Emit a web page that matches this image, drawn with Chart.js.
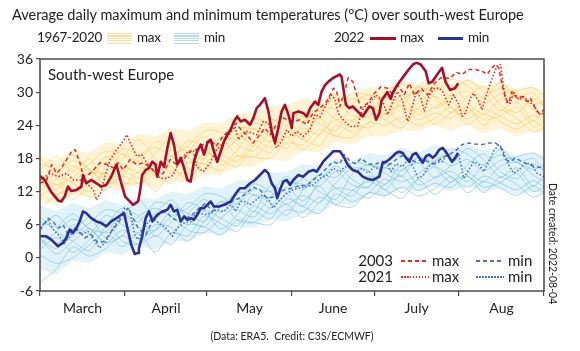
<!DOCTYPE html>
<html>
<head>
<meta charset="utf-8">
<script src="https://cdn.jsdelivr.net/npm/chart.js@4.4.1/dist/chart.umd.min.js"></script>
<style>
  html, body { margin: 0; padding: 0; background: #fff; }
  #wrap { position: relative; width: 580px; height: 351px; font-family: Lato, "Noto Sans", sans-serif; color: #222; }
  #wrap canvas { position: absolute; left: 0; top: 0; }
  .t { position: absolute; white-space: nowrap; line-height: 1; }
  .lg { font-size: 13.5px; letter-spacing: -0.3px; top: 31px; }
  .sw { position: absolute; }
</style>
</head>
<body>
<div id="wrap">
  <canvas id="c" width="580" height="351"></canvas>

  <div class="t" style="left:12px;top:8px;font-size:14.5px">Average daily maximum and minimum temperatures (°C) over south-west Europe</div>

  <!-- top legend -->
  <div class="t lg" style="left:37px">1967-2020</div>
  <div class="sw" style="left:107px;top:33px;width:25px;height:11px;background:repeating-linear-gradient(to bottom,#fddf9a 0 1px,transparent 1px 2.5px)"></div>
  <div class="t lg" style="left:137px">max</div>
  <div class="sw" style="left:174px;top:33px;width:25px;height:11px;background:repeating-linear-gradient(to bottom,#b4dcec 0 1px,transparent 1px 2.5px)"></div>
  <div class="t lg" style="left:204px">min</div>
  <div class="t lg" style="left:334px">2022</div>
  <div class="sw" style="left:370px;top:37px;width:26px;height:3px;background:#a50f2d"></div>
  <div class="t lg" style="left:400px">max</div>
  <div class="sw" style="left:438px;top:37px;width:25px;height:3px;background:#2a3192"></div>
  <div class="t lg" style="left:468px">min</div>

  <div class="t" style="left:48px;top:67px;font-size:15px">South-west Europe</div>

  <!-- inner legend -->
  <div class="t" style="right:187px;top:253px;font-size:15px">2003</div>
  <div class="sw" style="left:401px;top:260px;width:28px;height:1.6px;background:repeating-linear-gradient(to right,#e8281e 0 4px,transparent 4px 7px)"></div>
  <div class="t" style="left:432px;top:253px;font-size:15px">max</div>
  <div class="sw" style="left:476px;top:260px;width:28px;height:1.6px;background:repeating-linear-gradient(to right,#4a72c0 0 4px,transparent 4px 7px)"></div>
  <div class="t" style="left:508px;top:253px;font-size:15px">min</div>
  <div class="t" style="right:187px;top:269px;font-size:15px">2021</div>
  <div class="sw" style="left:401px;top:276px;width:28px;height:1.6px;background:repeating-linear-gradient(to right,#e8281e 0 1.5px,transparent 1.5px 3px)"></div>
  <div class="t" style="left:432px;top:269px;font-size:15px">max</div>
  <div class="sw" style="left:476px;top:276px;width:28px;height:1.6px;background:repeating-linear-gradient(to right,#4a72c0 0 1.5px,transparent 1.5px 3px)"></div>
  <div class="t" style="left:508px;top:269px;font-size:15px">min</div>

  <div class="t" style="left:558px;top:183px;font-size:10.5px;transform:rotate(90deg);transform-origin:0 0">Date created: 2022-08-04</div>
  <div class="t" style="left:0;width:584px;text-align:center;top:331px;font-size:10.5px">(Data: ERA5.&nbsp; Credit: C3S/ECMWF)</div>
</div>

<script>
/* x = days since 1 March, y = °C */
const monthNames  = ['March', 'April', 'May', 'June', 'July', 'Aug'];
const monthStarts = [0, 31, 61, 92, 122, 153, 184];
const yTicks      = [-6, 0, 6, 12, 18, 24, 30, 36];

/* 2022 (up to early August) */
const max2022 = [[0,14.8],[1.7,14.1],[4,12],[6.6,10.4],[7.8,10.2],[9,11.1],[10.2,12.9],[11.4,12.1],[13.3,12.3],[15.1,12.9],[15.7,15],[16.9,13.5],[18.7,14.1],[20.6,13.5],[22.4,12.9],[24.2,13.2],[26,14.7],[27.9,16.9],[29.5,13.8],[31.1,11.1],[34,9.6],[35.8,10.2],[36.5,12],[37.3,15],[38.6,15.9],[39.8,16.3],[41,17.4],[42.2,16.9],[42.8,14.7],[44.1,17.4],[45.3,16.5],[46.5,19.9],[47.7,22.6],[48.9,20.5],[50.1,16.9],[51.4,18.1],[52.6,16.3],[53.8,14.1],[55,13.8],[56.2,17.4],[57.4,19.3],[58.7,20.5],[59.9,18.7],[61.1,20.8],[62.3,21.4],[63.5,19.3],[64.7,17.4],[66,19.3],[67.2,21.1],[68.4,22.3],[69.6,23.2],[70.8,24.7],[72,25.6],[73.3,24.7],[74.8,25],[76.7,24.1],[77.9,25.3],[79.1,27.1],[80.3,27.7],[82.1,28.9],[83.4,26.5],[84.6,22.9],[85.8,20.8],[87,23.5],[88.2,26.5],[89.4,27.7],[90.7,25.9],[91.9,23.5],[92.5,26.2],[94.3,26.5],[96.1,26.2],[97.4,25.6],[98.6,27.1],[100.4,28.3],[101.6,27.7],[102.8,30.1],[104.1,31.3],[105.3,31.9],[107.1,32.6],[108.3,32.9],[109.5,33.2],[110.1,32.8],[111.1,29.5],[111.7,27.7],[112.9,27.1],[114.2,27.4],[115.4,26.8],[116.6,26.2],[117.8,25.6],[119,26.5],[120.2,27.4],[121.5,27.1],[122.7,25],[123.9,26.2],[124.7,28.5],[126.8,30],[128,28.8],[129.1,30.2],[131,31.7],[132.8,32.9],[134.6,34.1],[136.4,35.1],[137.5,35.3],[139,35],[140.8,33.8],[141.9,31.6],[143.2,31.9],[145,33.2],[146.8,34.4],[148,31.9],[149.7,30.4],[151.5,30.7],[152.7,31.6]];
const min2022 = [[0,3.9],[2.3,3.9],[4.1,3.3],[6.6,2.1],[8.4,2.7],[9.6,3.6],[10.8,5.1],[12,4.5],[13.3,5.4],[14.5,6.6],[15.7,8.4],[16.9,8.1],[18.7,7.2],[20.6,6.6],[22.4,6.3],[24.2,5.7],[26,6.6],[27.9,7.2],[29.7,7.8],[30.7,8.1],[31.9,5.4],[33.3,2.4],[34.6,0.7],[35.8,0.9],[36.1,1.7],[37.3,3.9],[38.6,7.2],[39.8,8.4],[41,6.6],[42.8,7.8],[44.7,8.4],[46.5,8.7],[47.7,9.6],[48.9,8.4],[50.1,8.7],[51.4,6.6],[52.6,7.5],[53.8,6.9],[55,7.2],[56.2,6.9],[57.4,7.8],[58.7,9],[59.9,9],[61.1,9.6],[62.3,10.2],[63.5,9.3],[65.4,9.3],[67.2,9.6],[68.4,9.9],[69.6,10.2],[70.8,11.1],[72,12],[73,12.6],[74.8,12.6],[76.7,13.5],[78.5,14.1],[80.3,15],[82.1,15.9],[83.4,15.3],[84.6,13.5],[85.8,12.6],[86.6,10.8],[87.6,12.3],[88.8,13.8],[90.1,14.1],[91.3,13.2],[92.5,14.1],[94.3,15],[96.1,14.7],[98,15.6],[99.8,15.9],[101,15.6],[102.2,16.5],[103.4,17.4],[104.7,18.1],[105.9,18.7],[107.1,19.3],[109.5,19.3],[111.1,18.1],[112.3,16.9],[114.2,15.9],[116,15.6],[117.8,14.7],[119.6,14.3],[121.5,14.1],[122.7,14.4],[123.9,14.7],[125.1,17.2],[126.3,17.4],[127.5,17.8],[128.8,18.4],[130,19],[131.2,19.2],[132.4,19],[133.6,18.1],[134.8,17.4],[136.1,18.7],[137.3,19],[138.5,18.1],[139.7,17.2],[140.9,18.4],[142.1,18.7],[143.4,18.1],[144.6,18.7],[145.8,19.6],[147,19.9],[148,19.3],[149.2,18.4],[150.4,17.4],[151.6,18.1],[152.6,19]];

/* 2003 (dashed) */
const max2003 = [[0,13.5],[2.4,14.1],[4.3,16.9],[6.1,15.3],[7.9,16.3],[9.7,17.8],[11.6,19.3],[12.8,19.6],[14.6,17.2],[15.8,14.7],[17.6,15],[19.5,15.9],[21.9,17.2],[24.4,16.9],[26.8,16.3],[28.6,17.2],[30.4,15.9],[32.9,17.8],[35.3,16.9],[37.7,17.2],[40.2,16.5],[42.6,15],[45,15.3],[47.5,17.8],[49.9,16.9],[52.3,17.8],[54.8,19.3],[57.2,19.6],[59.5,20.5],[62.1,21.4],[64.3,20.2],[66.8,22],[69.4,23.2],[71.6,24.4],[73.4,23.2],[75.5,22.3],[77.8,20.8],[80.3,22.3],[82.1,23.5],[84,22.3],[86.2,24],[88.8,25.3],[92.4,24.7],[94.9,25],[97.4,24.1],[99.7,26.2],[102.2,27.1],[104.7,28.3],[107.1,30.7],[108.3,30.1],[109.5,27.4],[111.4,30.5],[112.5,32.6],[114.2,31.9],[116,28.9],[117.2,27.1],[119.6,28],[122.1,29.8],[124.5,31],[126.9,30.7],[128.8,29.5],[130.6,31.3],[133,29.5],[134.8,31.6],[136.7,29.5],[139.1,30.7],[141.5,29.5],[144,31.6],[146.4,32.6],[149.7,32.5],[151.9,33.6],[154.1,33.2],[156.5,34.1],[158.9,34.1],[161.4,33.8],[163.2,33.2],[165,34.4],[166.2,35],[167.5,34.4],[168.7,31.3],[169.9,28.9],[171.1,28],[172.3,30.1],[174.2,28.9],[176,29.2],[177.8,28.3],[179,28.9],[180.8,27.1],[182.1,26.2],[184,26.8]];
const min2003 = [[0,5],[2.9,7.2],[4.7,6.6],[6.6,5.4],[8.4,6],[10.2,4.2],[12,5.4],[13.9,5.1],[16.3,3.6],[18.7,4.2],[21.2,2.7],[23.6,3],[26,4.8],[28.5,6.3],[30.3,7.8],[32.1,9],[34,7.2],[35.8,5.4],[38.6,4.2],[41,6.6],[43.4,7.8],[45.9,8.4],[48.3,7.2],[50.7,6.6],[53.2,7.2],[55.6,7.8],[58.1,9],[60.5,9.9],[62.9,8.4],[65.4,9.3],[67.8,9.6],[70.2,10.2],[72.7,10.8],[74.8,11.5],[77.8,12.8],[80.3,12.3],[82.9,10.8],[85.1,11],[87.6,12],[90.2,12.5],[92.4,12.6],[94.9,13.2],[97.1,13],[99.7,14.1],[102.2,15],[104.8,16.3],[107,17.4],[109.5,17],[111,18.7],[113.2,17.5],[115.4,17],[117.2,18],[119.8,17],[122.3,16.9],[124.9,17.5],[127.8,16.9],[130,17.8],[132.2,18.5],[134.4,18],[136.9,17.4],[139.5,17.8],[141.7,17.4],[144.2,17],[146.8,18.1],[149.2,18.7],[151.5,19.3],[154.1,20.5],[156.5,20.8],[158.8,20.6],[161.4,20.5],[163.8,20.8],[166.2,20.8],[168.1,20.2],[169.9,17.8],[171.7,17.4],[173.5,18.1],[176,17.4],[178.4,16.9],[180.8,16.5],[184,16.3]];

/* 2021 (dotted) */
const max2021 = [[0,14.1],[3.7,15.3],[6.7,14.7],[9.7,15.3],[12.2,14.1],[14.6,14.1],[17,13.5],[19.5,12.3],[20.6,10.5],[22.4,12],[23.6,14.5],[25.6,17.8],[28,19.6],[30.4,21.1],[31.7,22.3],[33.5,20.2],[35.3,18.4],[37.1,18.7],[39,17.2],[41.4,15.9],[43.8,14.4],[46.3,14.4],[48.7,15],[51.1,17.8],[53.6,19],[56,19.3],[57.2,16.5],[59.6,15.6],[62.1,17.2],[64.5,19.6],[66.9,20.8],[69.4,22.6],[71.2,23.8],[72.4,21.4],[75.5,22.9],[79.1,22.3],[81.5,24.7],[83.4,24.4],[85.2,21.4],[86.4,19.9],[88.2,21.1],[90.1,23.2],[91.9,22],[93.7,22.9],[96.1,22],[98.6,23.2],[100.4,26],[102.2,25.5],[104.7,28],[106.5,29.5],[107.7,28.6],[108.9,26.2],[111.1,24.7],[113.5,23.8],[116,23.8],[117.2,26.2],[119,27.7],[120.8,28.3],[122.7,29.5],[125.1,28.3],[126.9,25.9],[128.8,28.3],[130.6,30.1],[132.4,28.3],[134.2,24.7],[135.5,26.5],[137.3,30.1],[139.1,28.9],[140.3,26.5],[142.1,29.5],[144,30.7],[145.8,30.7],[147,30.1],[149.2,27.7],[151,29.5],[152.9,27.7],[154.1,25.6],[155.3,26.2],[157.1,28.9],[158.3,29.8],[160.2,28.3],[161.4,26.8],[162.6,28.9],[163.8,30.7],[165.6,33.2],[166.8,34.7],[168.1,35],[169.3,30.7],[170.5,28],[171.7,28],[172.9,30.1],[174.8,28.6],[176.6,29.2],[178.4,28.3],[180.2,27.7],[181.5,26.5],[182.7,25.9],[184,26.2]];
const min2021 = [[0,5.5],[2.9,6.8],[4.7,5.2],[6.6,4.2],[9,2.7],[10.8,3.9],[12.7,5.4],[15.1,4.2],[17.5,4.8],[20,3],[21.8,1.8],[24.2,3],[26.7,5.4],[29.1,7.2],[30.9,9],[32.7,8.7],[34.6,4.2],[35.8,3.3],[38.6,6],[41,7.2],[43.4,6.3],[45.9,5.4],[48.3,3.9],[50.1,5.4],[52.6,6.3],[55,6.6],[57.4,8.4],[59.9,7.8],[62.3,8.1],[64.7,8.7],[67.2,8.4],[69.6,9.6],[71.4,8.4],[73.3,10.2],[74.8,10.2],[76.7,9.6],[78.9,10.5],[81.1,11.4],[83.2,10.8],[85.1,9],[87.6,10.5],[90.2,11.7],[92.4,12.3],[94.2,12.6],[97.1,12.9],[99.7,13.2],[102.2,14.4],[104.8,15],[107,16.2],[109.5,15.6],[111.4,16.5],[113.2,16.3],[115.4,15.6],[117.6,16.2],[119.8,15.3],[121.9,16.5],[124.1,16],[126.3,17.4],[128.1,15.6],[130,17],[132.2,16.5],[134.4,17.8],[136.2,16.5],[138,14.5],[139.8,14.8],[141.7,16.5],[143.8,17.2],[146.8,17.4],[148.6,18.7],[150.4,17.4],[152.9,18.7],[154.7,14.4],[156.5,15.9],[158.3,17.4],[160.2,16.9],[162,15.6],[163.8,17.4],[165.6,19.3],[167.5,20.5],[168.7,19.9],[169.9,18.1],[171.7,16.3],[172.9,15.3],[174.8,15.9],[177.2,17.2],[179.6,16.9],[181.5,15.3],[184,14.7]];

/* 1967-2020 spaghetti (sampled every 6 days) */
const histDays = [0,6,12,18,24,30,36,42,48,54,60,66,72,78,84,90,96,102,108,114,120,126,132,138,144,150,156,162,168,174,180,184];
const histMax = [
  [16,18.3,15.6,18,14.3,17.8,21.5,18,15.5,19.2,22,19.8,22.5,20.3,25,23.8,21.5,26.3,29,26.8,25.5,29,27.5,31,29.2,26.3,29.2,31,27.7,26.3,28.8,27.5],
  [11,13.3,10.6,13,15.3,12.8,15.5,12,15.5,15.2,19,17.8,16.5,20.3,19,22.8,21.5,20.3,24,22.8,24.5,27,24.5,27,24.2,26.3,27.2,25,25.7,27.3,23.8,24.5],
  [14,12.3,16.6,15,18.3,16.8,15.5,19,21.5,18.2,17,20.8,23.5,23.3,21,23.8,26.5,24.3,23,27.8,29.5,28,26.5,28,30.2,31.3,28.2,26,28.7,29.3,26.8,25.5],
  [18,15.3,13.6,12,16.3,19.8,18.5,15,17.5,21.2,20,16.8,19.5,23.3,22,19.8,24.5,27.3,25,23.8,27.5,26,29.5,26,27.2,29.3,32.2,30,26.7,28.3,24.8,26.5],
  [13,15.3,17.6,16,13.3,14.8,18.5,20,18.5,16.2,16,18.8,21.5,25.3,24,21.8,23.5,22.3,26,28.8,28.5,25,28.5,30,27.2,28.3,26.2,29,30.7,29.3,27.8,28.5],
  [9,11.3,12.6,11,12.3,14.8,13.5,15,13.5,17.2,17,15.8,18.5,18.3,18,20.8,20.5,23.3,22,21.8,24.5,24,25.5,24,25.2,27.3,24.2,26,24.7,23.3,24.8,23.5],
  [15,13.3,14.6,17,19.3,18.8,16.5,16,18.5,20.2,23,22.8,20.5,19.3,23,25.8,25.5,25.3,28,25.8,25.5,30,31.5,30,31.2,29.3,30.2,28,29.7,30.3,30.8,29.5],
  [12,14.3,11.6,14,17.3,13.8,13.5,17,16.5,14.2,18,21.8,18.5,18.3,21,24.8,22.5,25.3,22,24.8,26.5,25,23.5,27,29.2,27.3,25.2,27,25.7,24.3,25.8,24.5],
  [17,16.3,18.6,16,15.3,18.8,17.5,21,20.5,19.2,18,21.8,21.5,24.3,24,26.8,24.5,27.3,27,29.8,29.5,29,28.5,31,30.2,32.3,31.2,29,31.7,29.3,29.8,27.5],
  [14,11.3,13.6,16,13.3,15.8,14.5,16,19.5,17.2,20,18.8,17.5,21.3,20,21.8,19.5,22.3,25,24.8,23.5,26,27.5,25,26.2,25.3,27.2,24,26.7,25.3,22.8,23.5]
];
const histMin = [
  [7.5,4.7,3,1.3,5.7,9,7.5,4,6.5,10,8.6,5.2,7.8,11.4,10,7.7,12.3,15,12.6,11.2,14.8,13.3,16.8,13.2,14.5,16.7,19.8,17.8,14.6,16.3,13,14.8],
  [-4.5,-2,2,0.3,1.7,4,2.5,4,2.5,6,5.6,4.2,6.8,6.4,6,8.7,8.3,11,9.6,9.2,11.8,11.3,12.8,11.2,12.5,14.7,11.8,13.8,12.6,11.3,13,11.8],
  [6.5,5.7,8,5.3,4.7,8,6.5,10,9.5,8,6.6,10.2,9.8,12.4,12,14.7,12.3,15,14.6,17.2,16.8,16.3,15.8,18.2,17.5,19.7,18.8,16.8,19.6,17.3,18,15.8],
  [0.5,-1,0,2.3,4.7,2,4.5,1,4.5,4,7.6,6.2,4.8,8.4,7,10.7,9.3,8,11.6,10.2,11.8,14.3,11.8,14.2,11.5,13.7,14.8,12.8,13.6,15.3,12,12.8],
  [5.5,7.7,5,7.3,3.7,7,10.5,7,4.5,8,10.6,8.2,10.8,8.4,13,11.7,9.3,14,16.6,14.2,12.8,16.3,14.8,18.2,16.5,13.7,16.8,18.8,15.6,14.3,17,15.8],
  [1.5,3.7,1,3.3,6.7,3,2.5,6,5.5,3,6.6,10.2,6.8,6.4,9,12.7,10.3,13,9.6,12.2,13.8,12.3,10.8,14.2,16.5,14.7,12.8,14.8,13.6,12.3,14,12.8],
  [2.5,4.7,7,5.3,2.7,4,7.5,9,7.5,5,4.6,7.2,9.8,13.4,12,9.7,11.3,10,13.6,16.2,15.8,12.3,15.8,17.2,14.5,15.7,13.8,16.8,18.6,17.3,16,16.8],
  [3.5,0.7,3,5.3,2.7,5,3.5,5,8.5,6,8.6,7.2,5.8,9.4,8,9.7,7.3,10,12.6,12.2,10.8,13.3,14.8,12.2,13.5,12.7,14.8,11.8,14.6,13.3,11,11.8],
  [4.5,2.7,4,6.3,8.7,8,5.5,5,7.5,9,11.6,11.2,8.8,7.4,11,13.7,13.3,13,15.6,13.2,12.8,17.3,18.8,17.2,18.5,16.7,17.8,15.8,17.6,18.3,19,17.8],
  [3.5,1.7,6,4.3,7.7,6,4.5,8,10.5,7,5.6,9.2,11.8,11.4,9,11.7,14.3,12,10.6,15.2,16.8,15.3,13.8,15.2,17.5,18.7,15.8,13.8,16.6,17.3,15,13.8]
];
/* inner body of the 1967-2020 spread */
const histMaxHi = [18.5,17.5,19.5,19,21,20.5,22.5,22,23.5,23,24.5,24.5,26,26.5,27.5,27.5,29,28.5,30,29.5,31,30.5,32,31.5,32.5,31.5,32.5,31,32,30.5,31,30];
const histMaxLo = [10.5,9.5,11.5,11,12.5,12,13.5,12.5,14,13.5,15,15,16.5,16.5,18,17.5,19.5,19,21,20.5,22,22,23,23,24,23,24,22.5,23.5,22,23,22.5];
const histMinHi = [9.5,8.5,10,9,10.5,9.5,11,10.5,12,11.5,13,12.5,14,14,15.5,15.5,17,16.5,18,17.5,19,18.5,20,19,20.5,19.5,20.5,19.5,20,18.5,19,18.5];
const histMinLo = [-2,-3,-0.5,-1,1,0.5,2,1.5,3,3,4.5,4,5.5,5.5,7,6.5,8,8,10,9.5,11.5,11,12.5,12,13,12,13,12,12.5,11.5,12,11.5];

const monthMids = monthNames.map((_, i) => (monthStarts[i] + monthStarts[i + 1]) / 2);

const pts  = rows => rows.map(([x, y]) => ({ x, y }));
const hist = vals => histDays.map((x, i) => ({ x, y: vals[i] }));

function line(data, color, width, dash) {
  return { data, borderColor: color, borderWidth: width, borderDash: dash || [],
           pointRadius: 0, tension: 0, fill: false, borderCapStyle: 'butt', borderJoinStyle: 'round' };
}
function band(vals, fillColor) {
  return { data: hist(vals), borderWidth: 0, pointRadius: 0, tension: 0,
           fill: fillColor ? '+1' : false, backgroundColor: fillColor || 'transparent' };
}

/* first dataset is drawn on top */
const datasets = [
  line(pts(max2022), '#a50f2d', 2.6),
  line(pts(min2022), '#2a3192', 2.6),
  line(pts(max2003), '#e8281e', 1.5, [4, 3]),
  line(pts(min2003), '#4a72c0', 1.5, [4, 3]),
  line(pts(max2021), '#e8281e', 1.6, [1.5, 2]),
  line(pts(min2021), '#4a72c0', 1.6, [1.5, 2]),
  ...histMax.map(v => ({ ...line(hist(v), 'rgba(252,205,105,0.75)', 0.9), tension: 0.25 })),
  ...histMin.map(v => ({ ...line(hist(v), 'rgba(125,192,220,0.7)', 0.9), tension: 0.25 })),
  band(histMaxHi, 'rgba(254,226,155,0.42)'),
  band(histMaxLo),
  band(histMinHi, 'rgba(178,222,238,0.38)'),
  band(histMinLo)
];

/* plot frame */
const frame = {
  id: 'frame',
  afterDraw(chart) {
    const { ctx, chartArea: a } = chart;
    ctx.save();
    ctx.strokeStyle = '#4a4a4a';
    ctx.lineWidth = 1.5;
    ctx.strokeRect(a.left, a.top, a.right - a.left, a.bottom - a.top);
    ctx.restore();
  }
};

Chart.defaults.font.family = 'Lato, "Noto Sans", sans-serif';
Chart.defaults.color = '#222';

new Chart(document.getElementById('c'), {
  type: 'line',
  data: { datasets },
  plugins: [frame],
  options: {
    responsive: false,
    devicePixelRatio: 1,
    animation: false,
    layout: { padding: { left: 0, top: 59, right: 36, bottom: 0 } },
    plugins: { legend: { display: false }, tooltip: { enabled: false } },
    scales: {
      x: {
        type: 'linear', min: 0, max: 184,
        afterBuildTicks: s => {
          s.ticks = monthStarts.concat(monthMids).sort((a, b) => a - b).map(v => ({ value: v }));
        },
        ticks: {
          autoSkip: false, maxRotation: 0, padding: 4, font: { size: 14 },
          callback: v => { const i = monthMids.indexOf(v); return i < 0 ? '' : monthNames[i]; }
        },
        grid: {
          drawOnChartArea: false, tickLength: 5, lineWidth: 1.2,
          color: c => (c.tick && monthStarts.includes(c.tick.value)) ? '#4a4a4a' : 'rgba(0,0,0,0)'
        },
        border: { display: false },
        afterFit: s => { s.height = 60; }
      },
      y: {
        min: -6, max: 36,
        afterBuildTicks: s => { s.ticks = yTicks.map(v => ({ value: v })); },
        ticks: { padding: 3, font: { size: 14 } },
        grid: { drawOnChartArea: false, tickLength: 4, lineWidth: 1.2, color: '#4a4a4a' },
        border: { display: false },
        afterFit: s => { s.width = 40; }
      }
    }
  }
});
</script>
</body>
</html>
